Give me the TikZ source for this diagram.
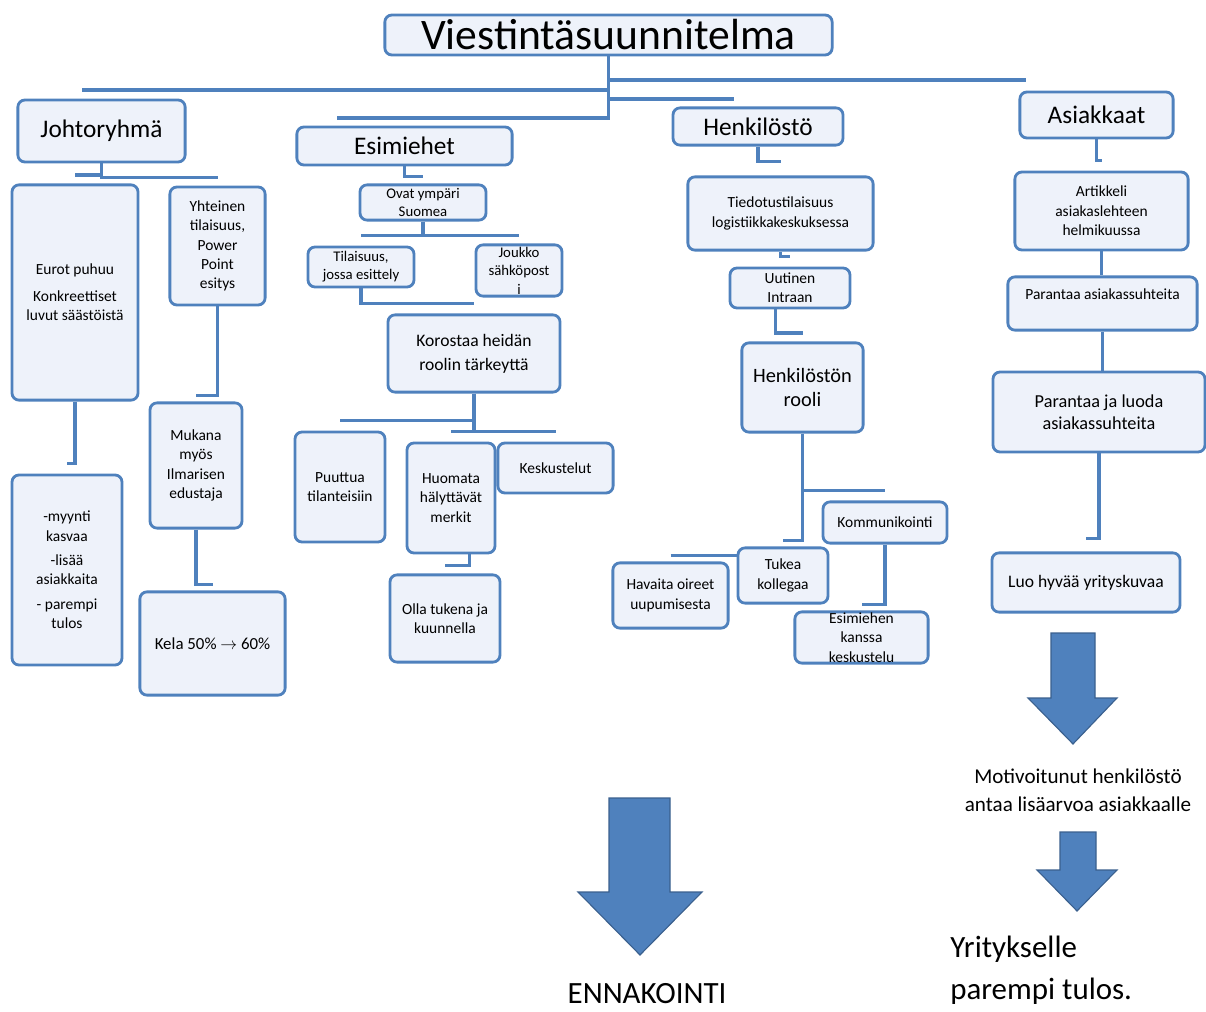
\documentclass[tikz,border=0pt]{standalone}
\usepackage{fontspec}
\setmainfont{Carlito}
\usepackage{tikz}
\usetikzlibrary{calc, positioning}
\usepackage{xcolor}
\definecolor{boxblue}{RGB}{79,129,189}
\definecolor{boxfill}{RGB}{238,242,250}
\definecolor{arrowedge}{RGB}{58,96,142}
\newcommand{\fsz}[2]{\fontsize{#1}{#2}\selectfont}

\begin{document}
\begin{tikzpicture}[
                x=0.025cm, y=-0.025cm,
                box/.style={draw=boxblue, line width=2pt, fill=boxfill, rounded corners=5pt, align=center, inner sep=1pt},
                head/.style={font=\fsz{18}{22}},
                note/.style={font=\fsz{11}{13.8}},
                link/.style={draw=boxblue, line width=2.2pt},
                bigarrow/.style={fill=boxblue, draw=arrowedge, line width=0.8pt, line join=miter},
                free/.style={inner sep=0pt}
            ]
                \useasboundingbox (0,0) rectangle (1206,1012);
                \node[box, minimum width=11.18cm, minimum height=1cm, font=\fsz{31}{36}] (title) at (608.5,35) {Viestintäsuunnitelma};
                % paaryhmat
                \node[box, head, minimum width=4.18cm, minimum height=1.55cm] (johto) at (101.5,131) {Johtoryhmä};
                \node[box, head, minimum width=5.38cm, minimum height=0.95cm] (esim) at (404.5,146) {Esimiehet};
                \node[box, head, minimum width=4.25cm, minimum height=0.93cm] (henk) at (758,126.5) {Henkilöstö};
                \node[box, head, minimum width=3.83cm, minimum height=1.15cm] (asiak) at (1096.5,115) {Asiakkaat};
                % johtoryhma
                \node[box, note, minimum width=3.15cm, minimum height=5.38cm] (eurot) at (75,292.5) {Eurot puhuu\\[5pt]Konkreettiset\\luvut säästöistä};
                \node[box, note, minimum width=2.38cm, minimum height=2.95cm] (yhteinen) at (217.5,246) {Yhteinen\\tilaisuus,\\Power\\Point\\esitys};
                \node[box, note, minimum width=2.75cm, minimum height=4.75cm] (myynti) at (67,570) {-myynti\\kasvaa\\[3.5pt]-lisää\\asiakkaita\\[3.5pt]- parempi\\tulos};
                \node[box, note, minimum width=2.3cm, minimum height=3.13cm] (mukana) at (196,465.5) {Mukana\\myös\\Ilmarisen\\edustaja};
                \node[box, font=\fsz{12}{14}, minimum width=3.63cm, minimum height=2.58cm] (kela) at (212.5,643.5) {Kela 50\% $\rightarrow$ 60\%};
                % esimiehet
                \node[box, font=\fsz{10.5}{12.8}, inner sep=0pt, minimum width=3.15cm, minimum height=0.88cm] (ovat) at (423,202.5) {Ovat ympäri\\Suomea};
                \node[box, font=\fsz{10.5}{12.8}, inner sep=0pt, minimum width=2.65cm, minimum height=1cm] (tilaisuus) at (361,267) {Tilaisuus,\\jossa esittely};
                \node[box, font=\fsz{10.5}{13.2}, inner sep=0pt, minimum width=2.15cm, minimum height=1.28cm] (joukko) at (519,270.5) {Joukko\\sähköpost\\i};
                \node[box, font=\fsz{12.5}{17}, minimum width=4.3cm, minimum height=1.93cm] (korostaa) at (474,353.5) {Korostaa heidän\\roolin tärkeyttä};
                \node[box, note, minimum width=2.25cm, minimum height=2.75cm] (puuttua) at (340,487) {Puuttua\\tilanteisiin};
                \node[box, note, minimum width=2.2cm, minimum height=2.75cm] (huomata) at (451,498) {Huomata\\hälyttävät\\merkit};
                \node[box, note, minimum width=2.88cm, minimum height=1.25cm] (kesk) at (555.5,468) {Keskustelut};
                \node[box, note, minimum width=2.75cm, minimum height=2.18cm] (olla) at (445,618.5) {Olla tukena ja\\kuunnella};
                % henkilosto
                \node[box, note, minimum width=4.63cm, minimum height=1.83cm] (tiedotus) at (780.5,213.5) {Tiedotustilaisuus\\logistiikkakeskuksessa};
                \node[box, note, minimum width=3cm, minimum height=1cm] (uutinen) at (790,288) {Uutinen\\Intraan};
                \node[box, font=\fsz{14.5}{16.5}, minimum width=3.03cm, minimum height=2.23cm] (hrooli) at (802.5,387.5) {Henkilöstön\\rooli};
                \node[box, note, minimum width=3.1cm, minimum height=1.03cm] (komm) at (885,522.5) {Kommunikointi};
                \node[box, font=\fsz{11}{13.8}, inner sep=0pt, minimum width=3.33cm, minimum height=1.28cm] (esimiehen) at (861.5,637.5) {Esimiehen\\kanssa\\keskustelu};
                \node[box, note, minimum width=2.25cm, minimum height=1.38cm] (tukea) at (783,575.5) {Tukea\\kollegaa};
                \node[box, note, minimum width=2.88cm, minimum height=1.63cm] (havaita) at (670.5,595.5) {Havaita oireet\\uupumisesta};
                % asiakkaat
                \node[box, note, minimum width=4.33cm, minimum height=1.95cm] (artik) at (1101.5,211) {Artikkeli\\asiakaslehteen\\helmikuussa};
                \node[box, note, minimum width=4.73cm, minimum height=1.33cm] (paran) at (1102.5,303.5) {Parantaa asiakassuhteita\\\mbox{}};
                \node[box, font=\fsz{13}{15.5}, minimum width=5.3cm, minimum height=2cm] (paran2) at (1099,412) {Parantaa ja luoda\\asiakassuhteita};
                \node[box, font=\fsz{12.5}{15}, minimum width=4.7cm, minimum height=1.48cm] (luo) at (1086,582.5) {Luo hyvää yrityskuvaa};
                % yhteydet
                \coordinate (jbus) at (82,90);
                \coordinate (ebus) at (337,118);
                \coordinate (hbus) at (734,99);
                \coordinate (abus) at (1026,80);
                \draw[link] (title.south) |- (jbus);
                \draw[link] (title.south) |- (ebus);
                \draw[link] (title.south) |- (hbus);
                \draw[link] (title.south) |- (abus);
                \draw[link] (johto.south) |- ([yshift=6pt]eurot.north);
                \draw[link] (johto.south) |- ([yshift=6pt]yhteinen.north);
                \draw[link] (eurot.south) |- ([yshift=7pt]myynti.north);
                \draw[link] (yhteinen.south) |- ([yshift=4pt]mukana.north);
                \draw[link] (mukana.south) |- ([yshift=4pt]kela.north);
                \draw[link] (esim.south) |- ([yshift=5pt]ovat.north);
                \draw[link] (ovat.south) |- ([yshift=7pt]tilaisuus.north);
                \draw[link] (ovat.south) |- ([yshift=5.5pt]joukko.north);
                \draw[link] (tilaisuus.south) |- ([yshift=7pt]korostaa.north);
                \draw[link] (korostaa.south) |- ([yshift=7pt]puuttua.north);
                \draw[link] (korostaa.south) |- ([yshift=7pt]huomata.north);
                \draw[link] (korostaa.south) |- ([yshift=7pt]kesk.north);
                \draw[link] ([xshift=13pt]huomata.south) |- ([yshift=6pt]olla.north);
                \draw[link] (henk.south) |- ([yshift=10pt]tiedotus.north);
                \draw[link] (tiedotus.south) |- ([yshift=7pt]uutinen.north);
                \draw[link] ([xshift=-10pt]uutinen.south) |- ([yshift=6pt]hrooli.north);
                \draw[link] (hrooli.south) |- ([yshift=7pt]komm.north);
                \draw[link] (hrooli.south) |- ([yshift=4pt]tukea.north);
                \draw[link] ([yshift=4pt]havaita.north) -- ([yshift=4pt]havaita.north -| tukea.west);
                \draw[link] (komm.south) |- ([yshift=4pt]esimiehen.north);
                \draw[link] (asiak.south) |- ([yshift=7pt]artik.north);
                \draw[link] (artik.south) -- (artik.south |- paran.north);
                \draw[link] (paran.south) -- (paran.south |- paran2.north);
                \draw[link] (paran2.south) |- ([yshift=9pt]luo.north);
                % nuolet ja tekstit
                \draw[bigarrow] (1051,633) -- (1095,633) -- (1095,698) -- (1117,698) -- (1073,744) -- (1028,698) -- (1051,698) -- cycle;
                \draw[bigarrow] (1060,832) -- (1096,832) -- (1096,870) -- (1117,870) -- (1077,911) -- (1037,870) -- (1060,870) -- cycle;
                \draw[bigarrow] (609,798) -- (670,798) -- (670,892) -- (702,892) -- (640,955) -- (578,892) -- (609,892) -- cycle;
                \node[free, font=\fsz{15}{20}, align=center] (motiv) at (1078,790) {Motivoitunut henkilöstö\\antaa lisäarvoa asiakkaalle};
                \node[free, font=\fsz{22}{30}, align=left, anchor=west] (yritys) at (950,970) {Yritykselle\\parempi tulos.};
                \node[free, font=\fsz{22}{26}] (ennak) at (647,994) {ENNAKOINTI};
            \end{tikzpicture}
\end{document}
